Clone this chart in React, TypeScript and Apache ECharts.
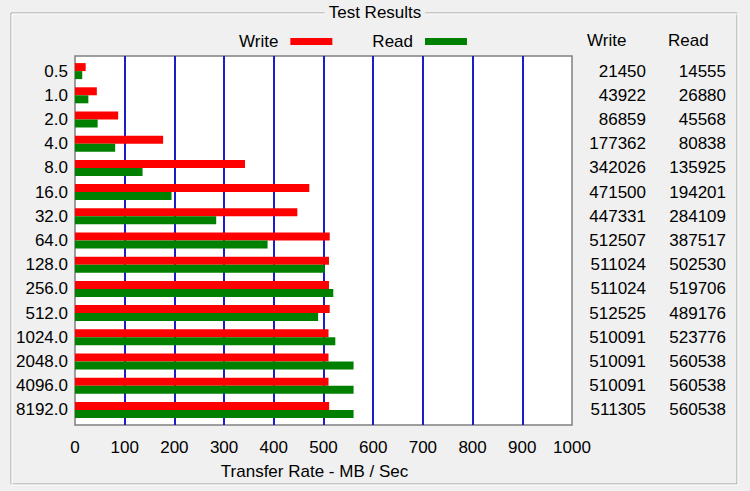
import React, { useEffect, useRef } from "react";
import * as echarts from "echarts";

const blockSizes = ["0.5", "1.0", "2.0", "4.0", "8.0", "16.0", "32.0", "64.0", "128.0", "256.0", "512.0", "1024.0", "2048.0", "4096.0", "8192.0"];
const writeKB = [21450, 43922, 86859, 177362, 342026, 471500, 447331, 512507, 511024, 511024, 512525, 510091, 510091, 510091, 511305];
const readKB = [14555, 26880, 45568, 80838, 135925, 194201, 284109, 387517, 502530, 519706, 489176, 523776, 560538, 560538, 560538];
const xMin = 0;
const xMax = 1000;
const xStep = 100;
const seriesNames = ["Write", "Read"];
const tableHeaders = ["Write", "Read"];

const FONT = "'Liberation Sans', Arial, sans-serif";

export default function App() {
  const ref = useRef<HTMLDivElement>(null);
  useEffect(() => {
    document.body.style.margin = "0";
    const chart = echarts.init(ref.current!, null, { renderer: "svg" });
    const writeMB = writeKB.map((v) => v / 1000);
    const readMB = readKB.map((v) => v / 1000);
    chart.setOption({
      animation: false,
      backgroundColor: "#f0f0f0",
      textStyle: { fontFamily: FONT, fontSize: 17, color: "#000" },
      title: {
        text: "Test Results",
        left: "center",
        top: 4,
        padding: [0, 4],
        backgroundColor: "#f0f0f0",
        z: 10,
        textStyle: { fontFamily: FONT, fontSize: 17, fontWeight: "normal", color: "#000" },
      },
      legend: {
        data: seriesNames,
        left: 234,
        top: 28,
        align: "right",
        icon: "rect",
        itemWidth: 42,
        itemHeight: 7,
        itemGap: 40,
        selectedMode: false,
        textStyle: { fontFamily: FONT, fontSize: 17, color: "#000", padding: [0, 7, 0, 0] },
      },
      graphic: [
        { type: "rect", z: 0, shape: { x: 11, y: 13, width: 726, height: 471 }, style: { fill: "none", stroke: "#a0a0a0", lineWidth: 1 } },
        { type: "rect", z: 0, shape: { x: 12, y: 14, width: 726, height: 471 }, style: { fill: "none", stroke: "#ffffff", lineWidth: 1 } },
        { type: "text", z: 1, x: 587, y: 40, style: { text: tableHeaders[0], font: `17px ${FONT}`, fill: "#000", verticalAlign: "middle" } },
        { type: "text", z: 1, x: 668, y: 40, style: { text: tableHeaders[1], font: `17px ${FONT}`, fill: "#000", verticalAlign: "middle" } },
      ],
      grid: [
        { left: 75, right: 178, top: 56, bottom: 66, show: true, backgroundColor: "#ffffff", borderColor: "#808080", borderWidth: 1.5 },
        { left: 75, right: 178, top: 59, bottom: 69 },
      ],
      xAxis: [
        {
          type: "value",
          gridIndex: 0,
          min: xMin,
          max: xMax,
          interval: xStep,
          axisLine: { show: false },
          axisTick: { show: false },
          axisLabel: { fontFamily: FONT, fontSize: 17, color: "#000", margin: 14, formatter: (v: number) => String(v) },
          splitLine: { show: true, showMinLine: false, showMaxLine: false, lineStyle: { color: "#1c1cc8", width: 2 } },
          name: "Transfer Rate - MB / Sec",
          nameLocation: "middle",
          nameGap: 38,
          nameTextStyle: { fontFamily: FONT, fontSize: 17, color: "#000", padding: [0, 18, 0, 0] },
        },
        {
          type: "value",
          gridIndex: 1,
          min: xMin,
          max: xMax,
          show: false,
        },
      ],
      yAxis: [
        { type: "value", gridIndex: 0, show: false },
        {
          type: "category",
          gridIndex: 1,
          data: blockSizes,
          inverse: true,
          position: "left",
          axisLine: { show: false },
          axisTick: { show: false },
          splitLine: { show: false },
          axisLabel: { interval: 0, fontFamily: FONT, fontSize: 17, color: "#000", margin: 7 },
        },
        {
          type: "category",
          gridIndex: 1,
          data: blockSizes,
          inverse: true,
          position: "right",
          axisLine: { show: false },
          axisTick: { show: false },
          splitLine: { show: false },
          axisLabel: {
            interval: 0,
            margin: 10,
            formatter: (_v: string, idx: number) => `{w|${writeKB[idx]}}{r|${readKB[idx]}}`,
            rich: {
              w: { width: 64, align: "right", fontFamily: FONT, fontSize: 17, color: "#000" },
              r: { width: 80, align: "right", fontFamily: FONT, fontSize: 17, color: "#000" },
            },
          },
        },
      ],
      series: [
        {
          name: seriesNames[0],
          type: "bar",
          xAxisIndex: 1,
          yAxisIndex: 1,
          data: writeMB,
          barWidth: 8,
          barGap: "0%",
          itemStyle: { color: "#ff0000" },
        },
        {
          name: seriesNames[1],
          type: "bar",
          xAxisIndex: 1,
          yAxisIndex: 1,
          data: readMB,
          barWidth: 8,
          barGap: "0%",
          itemStyle: { color: "#008000" },
        },
      ],
    });
    return () => chart.dispose();
  }, []);
  return <div ref={ref} style={{ width: 750, height: 491 }} />;
}
